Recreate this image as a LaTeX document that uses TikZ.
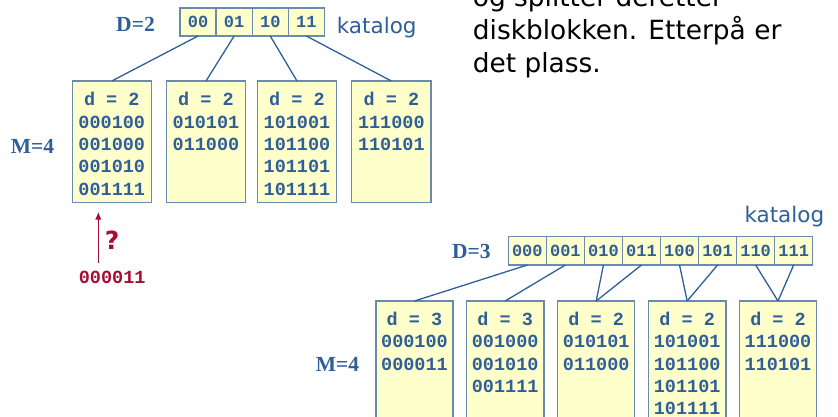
\documentclass[tikz,border=0pt]{standalone}
\usepackage{fontspec}
\setmainfont{Liberation Serif}
\newfontfamily\codefont{Liberation Mono}
\newfontfamily\labelfont{DejaVu Sans}
\usetikzlibrary{arrows.meta}
\definecolor{fillY}{HTML}{FFFFCC}
\definecolor{edgeB}{HTML}{6A8AB2}
\definecolor{txtB}{HTML}{2F5F98}
\definecolor{redQ}{HTML}{A50D33}
\tikzset{
  bucket/.style={draw=edgeB, line width=1.5pt, fill=fillY, anchor=north west,
    inner sep=0pt, outer sep=0pt, minimum width=#1},
  tophgt/.style={minimum height=121.7pt},
  bothgt/.style={minimum height=130pt},
  btext/.style={anchor=north, inner sep=0pt, align=center, text=txtB,
    font=\codefont\bfseries\fontsize{18.5}{22.3}\selectfont},
  cellA/.style={draw=edgeB, line width=1.4pt, fill=fillY, anchor=north west,
    inner sep=0pt, outer sep=0pt, minimum width=36.1pt, minimum height=28pt,
    text=txtB, font=\codefont\bfseries\fontsize{17}{17}\selectfont},
  cellB/.style={cellA, minimum width=38.05pt, minimum height=28.3pt},
  conn/.style={draw=txtB, line width=1.3pt},
  serlab/.style={text=txtB, inner sep=0pt, font=\bfseries\fontsize{21.5}{21.5}\selectfont},
  katlab/.style={text=txtB, inner sep=0pt, anchor=base west, font=\labelfont\fontsize{21.5}{21.5}\selectfont},
}
\begin{document}
\begin{tikzpicture}[x=1pt,y=-1pt]
\useasboundingbox (0,0) rectangle (838,417);
\clip (0,0) rectangle (838,417);

% body text (first line is cut by the top edge, as in the reference)
\node[anchor=base west, inner sep=0pt, align=left, text=black,
  font=\labelfont\fontsize{26.4}{33}\selectfont] (para) at (472.7,72.5)
  {og splitter deretter\\diskblokken. Etterpå er\\det plass.};

% ---------- top: D=2 ----------
\node[serlab] (D2) at (135.5,24) {D=2};
\node[serlab] (M4a) at (32.5,146) {M=4};
\node[cellA] (c00) at (180,8) {00};
\node[cellA] (c01) at (c00.north east) {01};
\node[cellA] (c10) at (c01.north east) {10};
\node[cellA] (c11) at (c10.north east) {11};
\node[katlab] (kat1) at (336.7,33.3) {katalog};

\node[bucket=79pt, tophgt] (b1) at (72.3,81) {};
\node[bucket=79.4pt, tophgt] (b2) at (166.3,81) {};
\node[bucket=79.4pt, tophgt] (b3) at (257.3,81) {};
\node[bucket=79.3pt, tophgt] (b4) at (351.7,81) {};
\node[btext] (t1) at ([yshift=-11.2pt]b1.north) {d = 2\\000100\\001000\\001010\\001111};
\node[btext] (t2) at ([yshift=-11.2pt]b2.north) {d = 2\\010101\\011000};
\node[btext] (t3) at ([yshift=-11.2pt]b3.north) {d = 2\\101001\\101100\\101101\\101111};
\node[btext] (t4) at ([yshift=-11.2pt]b4.north) {d = 2\\111000\\110101};

\draw[conn] (c00.south) -- (b1.north);
\draw[conn] (c01.south) -- (b2.north);
\draw[conn] (c10.south) -- (b3.north);
\draw[conn] (c11.south) -- (b4.north);

% insertion
\coordinate (qs) at (98.3,263.3);
\coordinate (qe) at (98.3,211.7);
\draw[redQ, line width=1.3pt, -{Latex[length=8pt,width=6.5pt]}] (qs) -- (qe);
\node[text=redQ, inner sep=0pt, font=\labelfont\bfseries\fontsize{25}{25}\selectfont] (qm) at (112,240) {?};
\node[text=redQ, inner sep=0pt, font=\codefont\bfseries\fontsize{18.5}{18.5}\selectfont] (qv) at (112.2,277.3) {000011};

% ---------- bottom: D=3 ----------
\node[katlab] (kat2) at (744.3,222.7) {katalog};
\node[serlab] (D3) at (471.3,251.7) {D=3};
\node[serlab] (M4b) at (337.5,364) {M=4};
\node[cellB] (d000) at (508.3,236.7) {000};
\node[cellB] (d001) at (d000.north east) {001};
\node[cellB] (d010) at (d001.north east) {010};
\node[cellB] (d011) at (d010.north east) {011};
\node[cellB] (d100) at (d011.north east) {100};
\node[cellB] (d101) at (d100.north east) {101};
\node[cellB] (d110) at (d101.north east) {110};
\node[cellB] (d111) at (d110.north east) {111};

\node[bucket=77pt, bothgt] (e1) at (376,301) {};
\node[bucket=77.7pt, bothgt] (e2) at (466.3,301) {};
\node[bucket=77pt, bothgt] (e3) at (557.7,301) {};
\node[bucket=77.7pt, bothgt] (e4) at (648.3,301) {};
\node[bucket=77.4pt, bothgt] (e5) at (739.3,301) {};
\node[btext] (u1) at ([yshift=-10.8pt]e1.north) {d = 3\\000100\\000011};
\node[btext] (u2) at ([yshift=-10.8pt]e2.north) {d = 3\\001000\\001010\\001111};
\node[btext] (u3) at ([yshift=-10.8pt]e3.north) {d = 2\\010101\\011000};
\node[btext] (u4) at ([yshift=-10.8pt]e4.north) {d = 2\\101001\\101100\\101101\\101111};
\node[btext] (u5) at ([yshift=-10.8pt]e5.north) {d = 2\\111000\\110101};

\draw[conn] (d000.south) -- (e1.north);
\draw[conn] (d001.south) -- (e2.north);
\draw[conn] (d010.south) -- (e3.north);
\draw[conn] (d011.south) -- (e3.north);
\draw[conn] (d100.south) -- (e4.north);
\draw[conn] (d101.south) -- (e4.north);
\draw[conn] (d110.south) -- (e5.north);
\draw[conn] (d111.south) -- (e5.north);
\end{tikzpicture}
\end{document}
